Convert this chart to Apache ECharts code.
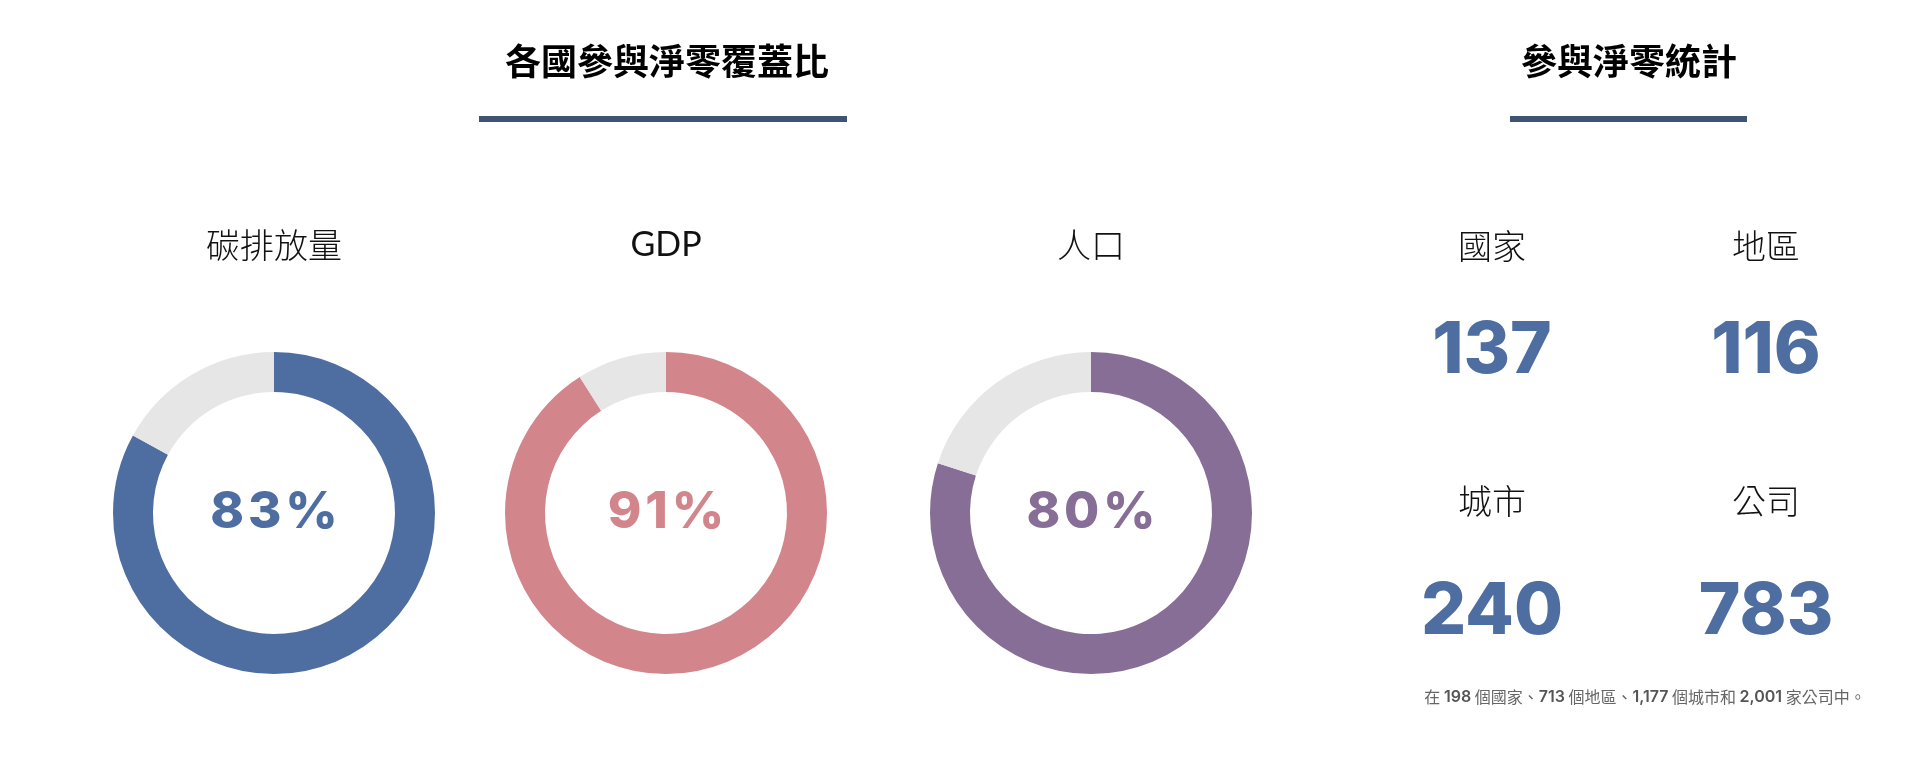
<!DOCTYPE html>
<html>
<head>
<meta charset="utf-8">
<script src="https://cdn.jsdelivr.net/npm/echarts@6/dist/echarts.min.js"></script>
<style>
html,body{margin:0;padding:0;background:#fff;}
#chart{width:1920px;height:767px;}
</style>
</head>
<body>
<div id="chart"></div>
<script>
// ---- data ----
const coverageCategories = ['碳排放量', 'GDP', '人口'];
const coverageValues = [83, 91, 80];
const statLabels = ['國家', '地區', '城市', '公司'];
const statValues = [137, 116, 240, 783];
const totalLabels = ['國家', '地區', '城市', '公司'];
const totalValues = ['198', '713', '1,177', '2,001'];
const headings = ['各國參與淨零覆蓋比', '參與淨零統計'];

// ---- style ----
const ringColors = ['#4e6ea1', '#d2868c', '#866e96'];
const restColor = '#e6e6e6';
const numColor = '#4e6ea1';
const barColor = '#3f5373';
const cjk = '"Noto Sans CJK TC","Noto Sans CJK SC",sans-serif';
const latinLabel = 'Lato, "Noto Sans CJK TC", sans-serif';
const numFont = 'Inter, "Noto Sans", sans-serif';

const donutX = [274, 666, 1091];
const donutY = 513;

const chart = echarts.init(document.getElementById('chart'));

const series = coverageValues.map((v, i) => ({
  type: 'pie',
  silent: true,
  center: [donutX[i], donutY],
  radius: [121, 161],
  startAngle: 90,
  clockwise: true,
  animation: false,
  emphasis: { disabled: true },
  label: { show: false },
  labelLine: { show: false },
  data: [
    {
      value: v, name: coverageCategories[i],
      itemStyle: { color: ringColors[i] },
      label: {
        show: true, position: 'center',
        formatter: String(v).split('').join('\u200A') + '\u200A%',
        color: ringColors[i], fontFamily: numFont, fontWeight: 800, fontSize: 51
      }
    },
    { value: 100 - v, name: '其他', itemStyle: { color: restColor } }
  ]
}));

const graphics = [];
// headings
const headX = [667, 1629];
headings.forEach((h, i) => {
  graphics.push({
    type: 'text', silent: true,
    style: { text: h, x: headX[i], y: 61, textAlign: 'center', textVerticalAlign: 'middle',
      font: 'bold 36px ' + cjk, fill: '#000' }
  });
});
graphics.push({ type: 'rect', silent: true, shape: { x: 479, y: 116, width: 368, height: 6 }, style: { fill: barColor } });
graphics.push({ type: 'rect', silent: true, shape: { x: 1510, y: 116, width: 237, height: 6 }, style: { fill: barColor } });

// donut labels
coverageCategories.forEach((c, i) => {
  const latin = /^[A-Za-z]+$/.test(c);
  graphics.push({
    type: 'text', silent: true,
    style: { text: c, x: donutX[i], y: 245, textAlign: 'center', textVerticalAlign: 'middle',
      font: latin ? '400 34px ' + latinLabel : '300 34px ' + cjk, fill: '#111' }
  });
});

// stats
const statX = [1492, 1766, 1492, 1766];
const statLabelY = [246, 246, 501, 501];
const statNumY = [352, 352, 613, 613];
statLabels.forEach((s, i) => {
  graphics.push({
    type: 'text', silent: true,
    style: { text: s, x: statX[i], y: statLabelY[i], textAlign: 'center', textVerticalAlign: 'middle',
      font: '300 34px ' + cjk, fill: '#111' }
  });
  graphics.push({
    type: 'text', silent: true,
    style: { text: String(statValues[i]), x: statX[i], y: statNumY[i], textAlign: 'center', textVerticalAlign: 'middle',
      font: '800 71px ' + numFont, fill: numColor }
  });
});

// footnote
let fn = '在 ';
totalValues.forEach((v, i) => {
  fn += '{b|' + v + '} ' + (i === 3 ? '家' : '個') + totalLabels[i] + (i < 2 ? '、' : (i === 2 ? '和 ' : '中。'));
});
chart.setOption({
  backgroundColor: '#fff',
  animation: false,
  title: {
    text: fn, left: 1640, top: 684, textAlign: 'center',
    textStyle: {
      fontFamily: cjk, fontSize: 16, fontWeight: 400, color: '#666',
      rich: { b: { fontFamily: numFont, fontSize: 16, fontWeight: 600, color: '#555' } }
    }
  },
  series: series,
  graphic: graphics
});
</script>
</body>
</html>
